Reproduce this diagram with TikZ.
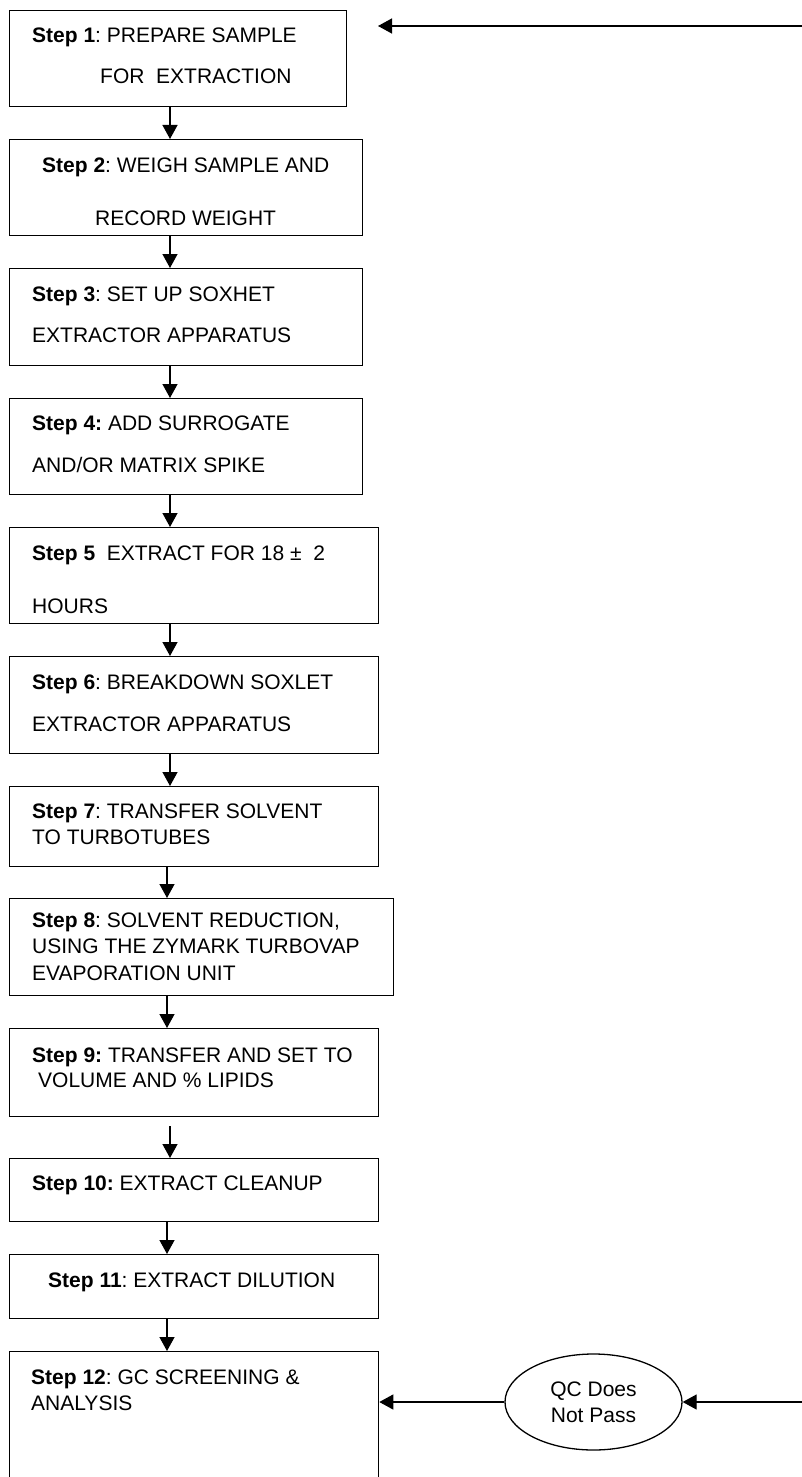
\documentclass[tikz,border=0pt]{standalone}
\usepackage{fontspec}
\setmainfont{Liberation Sans}
\usetikzlibrary{arrows.meta,shapes.geometric}
\frenchspacing
\begin{document}
\begin{tikzpicture}[x=1pt,y=-1pt,
  stepbox/.style={draw=black,line width=1.3pt,inner sep=0pt,anchor=north west,rectangle},
  txt/.style={inner sep=0pt,anchor=base west,font=\fontsize{21}{26}\selectfont\frenchspacing},
  arr/.style={draw=black,line width=1.3pt,-{Triangle[width=15pt,length=14pt]}},
  qcshape/.style={draw=black,line width=1.3pt,ellipse,inner sep=0pt,minimum width=177pt,minimum height=96pt,align=center,font=\fontsize{21}{26}\selectfont}]
\useasboundingbox (0,0) rectangle (802,1477);
\clip (0,0) rectangle (802,1477);
% boxes
\node[stepbox,minimum width=337pt,minimum height=96pt] (s1) at (9,10) {};
\node[stepbox,minimum width=353pt,minimum height=96pt] (s2) at (9,139) {};
\node[stepbox,minimum width=353pt,minimum height=97pt] (s3) at (9,268) {};
\node[stepbox,minimum width=353pt,minimum height=96pt] (s4) at (9,398) {};
\node[stepbox,minimum width=369pt,minimum height=96pt] (s5) at (9,527) {};
\node[stepbox,minimum width=369pt,minimum height=97pt] (s6) at (9,656) {};
\node[stepbox,minimum width=369pt,minimum height=80pt] (s7) at (9,786) {};
\node[stepbox,minimum width=384pt,minimum height=97pt] (s8) at (9,898) {};
\node[stepbox,minimum width=369pt,minimum height=88pt] (s9) at (9,1028) {};
\node[stepbox,minimum width=369pt,minimum height=63pt] (s10) at (9,1158) {};
\node[stepbox,minimum width=369pt,minimum height=64pt] (s11) at (9,1254) {};
\node[stepbox,minimum width=369pt,minimum height=180pt] (s12) at (9,1351) {};
% texts
\node[txt] (t1a) at (32,43) {\textbf{Step 1}: PREPARE SAMPLE};
\node[txt] (t1b) at (100,84) {FOR\ \ EXTRACTION};
\node[txt] (t2a) at (42,172) {\textbf{Step 2}: WEIGH SAMPLE AND};
\node[txt] (t2b) at (95,225) {RECORD WEIGHT};
\node[txt] (t3a) at (32,301) {\textbf{Step 3}: SET UP SOXHET};
\node[txt] (t3b) at (32,342) {EXTRACTOR APPARATUS};
\node[txt] (t4a) at (32,430) {\textbf{Step 4:} ADD SURROGATE};
\node[txt] (t4b) at (32,472) {AND/OR MATRIX SPIKE};
\node[txt] (t5a) at (32,560) {\textbf{Step 5}\ \ EXTRACT FOR 18 ±\ \ 2};
\node[txt] (t5b) at (32,613) {HOURS};
\node[txt] (t6a) at (32,689) {\textbf{Step 6}: BREAKDOWN SOXLET};
\node[txt] (t6b) at (32,731) {EXTRACTOR APPARATUS};
\node[txt] (t7a) at (32,818) {\textbf{Step 7}: TRANSFER SOLVENT};
\node[txt] (t7b) at (32,844) {TO TURBOTUBES};
\node[txt] (t8a) at (32,927) {\textbf{Step 8}: SOLVENT REDUCTION,};
\node[txt] (t8b) at (32,953) {USING THE ZYMARK TURBOVAP};
\node[txt] (t8c) at (32,980) {EVAPORATION UNIT};
\node[txt] (t9a) at (32,1062) {\textbf{Step 9:} TRANSFER AND SET TO};
\node[txt] (t9b) at (38,1087) {VOLUME AND \% LIPIDS};
\node[txt] (t10) at (32,1190) {\textbf{Step 10:} EXTRACT CLEANUP};
\node[txt] (t11) at (48,1287) {\textbf{Step 11}: EXTRACT DILUTION};
\node[txt] (t12a) at (31,1384) {\textbf{Step 12}: GC SCREENING \&};
\node[txt] (t12b) at (31,1410) {ANALYSIS};
% QC node
\node[qcshape] (qc) at (593.5,1402) {QC Does\\Not Pass};
% helper coordinates
\coordinate (ca) at (170,0);
\coordinate (cb) at (167,0);
\coordinate (r1) at (802,26);
\coordinate (r1end) at (378,26);
\coordinate (r2) at (802,1402);
% connectors
\draw[arr] (s1.south -| ca) -- (s2.north -| ca);
\draw[arr] (s2.south -| ca) -- (s3.north -| ca);
\draw[arr] (s3.south -| ca) -- (s4.north -| ca);
\draw[arr] (s4.south -| ca) -- (s5.north -| ca);
\draw[arr] (s5.south -| ca) -- (s6.north -| ca);
\draw[arr] (s6.south -| ca) -- (s7.north -| ca);
\draw[arr] (s7.south -| cb) -- (s8.north -| cb);
\draw[arr] (s8.south -| cb) -- (s9.north -| cb);
\draw[arr,shorten <=9pt] (s9.south -| ca) -- (s10.north -| ca);
\draw[arr] (s10.south -| cb) -- (s11.north -| cb);
\draw[arr] (s11.south -| cb) -- (s12.north -| cb);
\draw[arr] (r1) -- (r1end);
\draw[arr] (qc.west) -- (qc.west -| s12.east);
\draw[arr] (r2) -- (qc.east);
\end{tikzpicture}
\end{document}
